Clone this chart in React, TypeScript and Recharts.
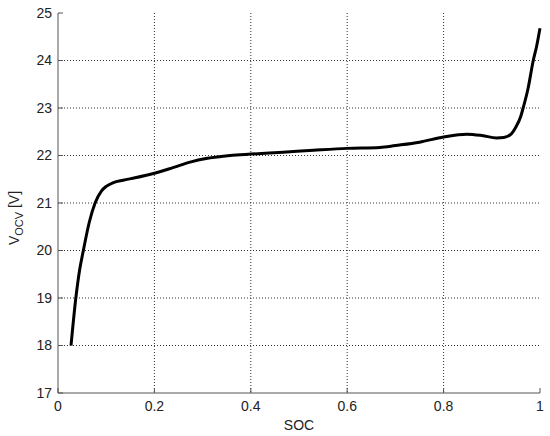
import React from 'react';
import { LineChart, Line, XAxis, YAxis, CartesianGrid } from 'recharts';

const socValues = [
  0.027, 0.037, 0.045, 0.0526, 0.065, 0.077, 0.09, 0.1, 0.115,
  0.135, 0.16, 0.198, 0.24, 0.274, 0.31, 0.357, 0.4, 0.467, 0.53,
  0.6, 0.668, 0.7, 0.75, 0.8, 0.848, 0.88, 0.91, 0.925, 0.94,
  0.95, 0.96, 0.965, 0.975, 0.986, 0.993, 1.0,
];
const vocvValues = [
  18.0, 19.0, 19.6, 20.0, 20.6, 21.0, 21.25, 21.35, 21.43,
  21.48, 21.53, 21.62, 21.75, 21.86, 21.94, 22.0, 22.03, 22.07, 22.11,
  22.15, 22.17, 22.21, 22.28, 22.39, 22.45, 22.42, 22.37, 22.38, 22.45,
  22.6, 22.82, 23.0, 23.4, 24.0, 24.3, 24.68,
];
const xTicks = [0, 0.2, 0.4, 0.6, 0.8, 1];
const yTicks = [17, 18, 19, 20, 21, 22, 23, 24, 25];

const data = socValues.map((s, i) => ({ soc: s, v: vocvValues[i] }));

const FONT = '"Liberation Sans", Arial, sans-serif';
const AXIS_COLOR = '#555';

const YLabel = (props: any) => {
  const vb = props.viewBox || {};
  const cx = (vb.x || 0) + 19;
  const cy = (vb.y || 0) + (vb.height || 0) / 2 + 15;
  return (
    <text
      x={cx}
      y={cy}
      transform={`rotate(-90, ${cx}, ${cy})`}
      textAnchor="middle"
      fontFamily={FONT}
      fontSize={14}
      fill="#222"
    >
      <tspan>V</tspan>
      <tspan fontSize={11} dy={4}>OCV</tspan>
      <tspan dy={-4}> [V]</tspan>
    </text>
  );
};

export default function App() {
  return (
    <div style={{ position: 'absolute', left: 0, top: 0, background: '#fff' }}>
      <LineChart
        width={550}
        height={436}
        data={data}
        margin={{ top: 13, right: 10, left: 0, bottom: 0 }}
      >
        <CartesianGrid
          stroke="#333"
          strokeDasharray="1 2"
          horizontalValues={[18, 19, 20, 21, 22, 23, 24]}
          verticalValues={[0.2, 0.4, 0.6, 0.8]}
        />
        <XAxis
          dataKey="soc"
          type="number"
          domain={[0, 1]}
          ticks={xTicks}
          height={43}
          tickSize={-5}
          tickMargin={13}
          stroke={AXIS_COLOR}
          tick={{ fill: '#222', fontSize: 14, fontFamily: FONT }}
          label={{ value: 'SOC', position: 'insideBottom', offset: 6, fill: '#222', fontSize: 14, fontFamily: FONT }}
        />
        <XAxis
          xAxisId="top"
          orientation="top"
          type="number"
          domain={[0, 1]}
          ticks={xTicks}
          height={0}
          tickSize={-5}
          stroke={AXIS_COLOR}
          tick={false}
        />
        <YAxis
          type="number"
          domain={[17, 25]}
          ticks={yTicks}
          width={58}
          tickSize={-5}
          tickMargin={11}
          stroke={AXIS_COLOR}
          tick={{ fill: '#222', fontSize: 14, fontFamily: FONT }}
          label={<YLabel />}
        />
        <YAxis
          yAxisId="right"
          orientation="right"
          type="number"
          domain={[17, 25]}
          ticks={yTicks}
          width={0}
          tickSize={-5}
          stroke={AXIS_COLOR}
          tick={false}
        />
        <Line
          type="monotone"
          dataKey="v"
          stroke="#000"
          strokeWidth={3}
          dot={false}
          isAnimationActive={false}
        />
      </LineChart>
    </div>
  );
}
